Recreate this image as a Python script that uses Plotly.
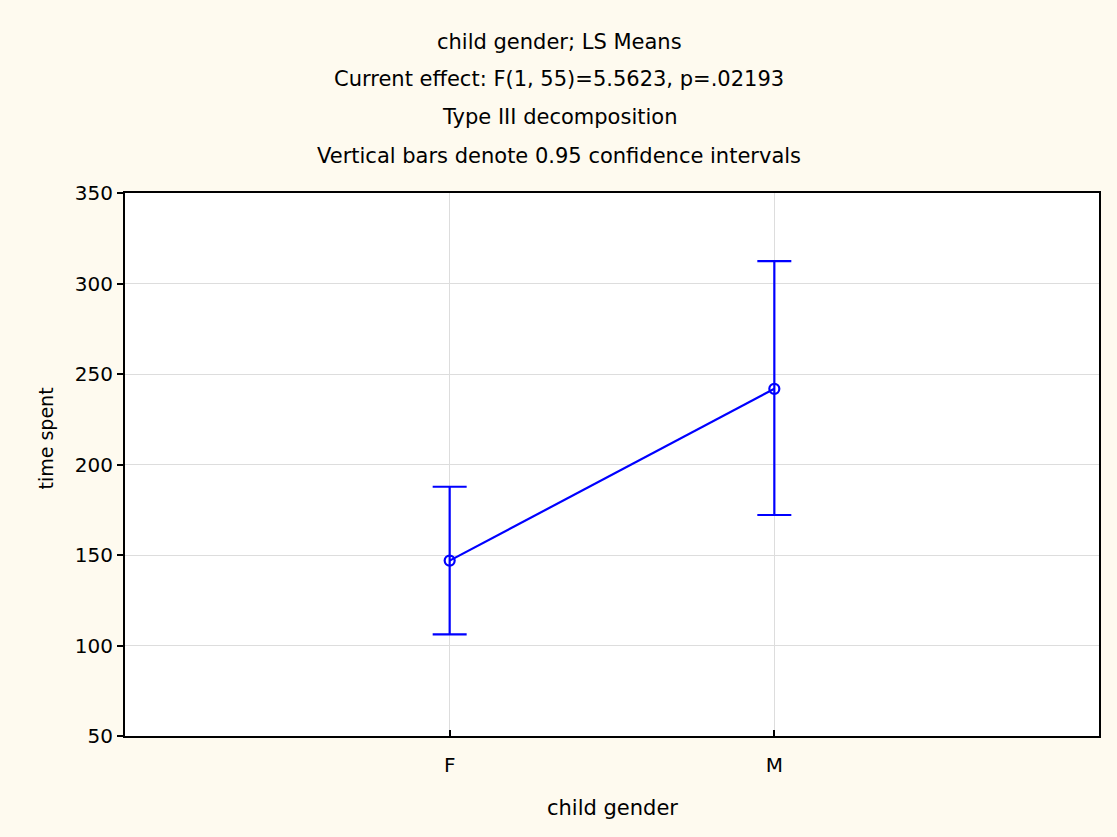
import plotly.graph_objects as go

categories = ["F", "M"]
ls_means = [146.9, 241.8]
ci_upper = [187.7, 312.4]
ci_lower = [106.2, 172.1]

title_lines = [
    "child gender; LS Means",
    "Current effect: F(1, 55)=5.5623, p=.02193",
    "Type III decomposition",
    "Vertical bars denote 0.95 confidence intervals",
]
x_label = "child gender"
y_label = "time spent"
y_ticks = [50, 100, 150, 200, 250, 300, 350]

err_plus = [u - m for u, m in zip(ci_upper, ls_means)]
err_minus = [m - l for m, l in zip(ls_means, ci_lower)]

FONT = "DejaVu Sans"
W, H = 1117, 837
L, R, T, B = 125, 18, 193, 101
pw, ph = W - L - R, H - T - B

def px_to_paper_x(px):
    return (px - L) / pw

def px_to_paper_y(py):
    return (H - B - py) / ph

fig = go.Figure()
fig.add_trace(go.Scatter(
    x=categories, y=ls_means,
    mode="lines+markers",
    line=dict(color="#0000FF", width=2.2),
    marker=dict(symbol="circle-open", size=10, color="#0000FF", line=dict(width=2.2, color="#0000FF")),
    error_y=dict(type="data", symmetric=False, array=err_plus, arrayminus=err_minus,
                 color="#0000FF", thickness=2.2, width=17),
    showlegend=False,
))

annotations = []
title_centers = [42, 79, 117, 156]
for txt, cy in zip(title_lines, title_centers):
    annotations.append(dict(text=txt, xref="paper", yref="paper",
                            x=px_to_paper_x(559), y=px_to_paper_y(cy),
                            xanchor="center", yanchor="middle", showarrow=False,
                            font=dict(family=FONT, size=21, color="black")))
annotations.append(dict(text=x_label, xref="paper", yref="paper",
                        x=0.5, y=px_to_paper_y(808), xanchor="center", yanchor="middle",
                        showarrow=False, font=dict(family=FONT, size=21, color="black")))
annotations.append(dict(text=y_label, xref="paper", yref="paper",
                        x=px_to_paper_x(45), y=px_to_paper_y(438.5), xanchor="center", yanchor="middle",
                        textangle=-90, showarrow=False, font=dict(family=FONT, size=19, color="black")))

fig.update_layout(
    width=W, height=H, autosize=False,
    margin=dict(l=L, r=R, t=T, b=B, pad=0),
    paper_bgcolor="#FEFAEF",
    plot_bgcolor="white",
    font=dict(family=FONT, size=20, color="black"),
    annotations=annotations,
    xaxis=dict(
        type="category", categoryorder="array", categoryarray=categories,
        range=[-1, 2], showgrid=True, gridcolor="#DDDDDD", gridwidth=1,
        showline=True, linecolor="black", linewidth=2, mirror=True,
        ticks="inside", ticklen=6, tickcolor="black", tickwidth=2,
        ticklabelstandoff=10, zeroline=False,
        tickfont=dict(family=FONT, size=20, color="black"),
    ),
    yaxis=dict(
        range=[50, 350], tickvals=y_ticks, showgrid=True, gridcolor="#DDDDDD", gridwidth=1,
        showline=True, linecolor="black", linewidth=2, mirror=True,
        ticks="outside", ticklen=6, tickcolor="black", tickwidth=2,
        zeroline=False,
        tickfont=dict(family=FONT, size=20, color="black"),
    ),
)

fig.write_html(
    "out.html",
    config={"displayModeBar": False},
    post_script="document.body.style.margin='0';document.body.style.padding='0';"
                "document.body.style.background='#FEFAEF';document.body.style.overflow='hidden';",
)
